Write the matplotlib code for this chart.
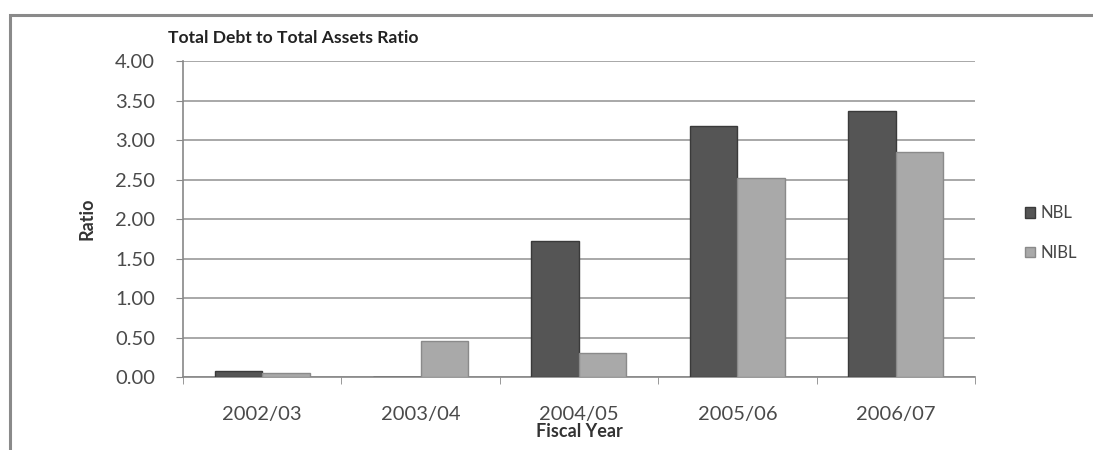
import numpy as np
import matplotlib.pyplot as plt
from matplotlib.patches import Rectangle, Patch

# данные
years = ['2002/03', '2003/04', '2004/05', '2005/06', '2006/07']
nbl = [0.08, 0.0, 1.72, 3.18, 3.37]
nibl = [0.05, 0.46, 0.30, 2.52, 2.85]

plt.rcParams['font.family'] = ['Lato', 'DejaVu Sans']

fig = plt.figure(figsize=(10.93, 4.5), dpi=100)
ax = fig.add_axes([0.1674, 0.1622, 0.7246, 0.7022])

# рамка вокруг диаграммы
fig.patches.append(Rectangle((10/1093, -0.1), 1.2, 1.1 - 15/450, transform=fig.transFigure,
                             fill=False, edgecolor='#8a8a8a', linewidth=2.2, zorder=0))

x = np.arange(len(years))
w = 0.3
ax.bar(x - w/2, nbl, w, color='#555555', edgecolor='#3a3a3a', linewidth=1.0, zorder=3)
ax.bar(x + w/2, nibl, w, color='#a9a9a9', edgecolor='#8a8a8a', linewidth=1.0, zorder=3)

ax.set_xlim(-0.5, len(years) - 0.5)
ax.set_ylim(0, 4)
ax.set_yticks(np.arange(0, 4.01, 0.5))
ax.set_yticklabels([f'{v:.2f}' for v in np.arange(0, 4.01, 0.5)])
ax.yaxis.grid(True, color='#9a9a9a', linewidth=1.2, zorder=0)
ax.set_axisbelow(True)

ax.set_xticks(x)
ax.set_xticklabels(years)
ax.set_xticks(np.arange(-0.5, len(years)), minor=True)
ax.tick_params(axis='x', which='major', length=0, pad=21, labelsize=14.5, labelcolor='#4a4a4a')
ax.tick_params(axis='x', which='minor', length=5, color='#888888', direction='out')
ax.tick_params(axis='y', length=5, color='#888888', labelsize=14.5, labelcolor='#4a4a4a', pad=15)

for s in ['top', 'right']:
    ax.spines[s].set_visible(False)
ax.spines['left'].set_color('#888888')
ax.spines['bottom'].set_color('#888888')
ax.spines['left'].set_linewidth(1.2)
ax.spines['bottom'].set_linewidth(1.2)

ax.set_xlabel('Fiscal Year', fontsize=13, fontweight='bold', color='#333333', labelpad=0)
ax.set_ylabel('Ratio', fontsize=13, fontweight='bold', color='#333333', labelpad=14)

fig.text(168/1093, 1 - 38/450, 'Total Debt to Total Assets Ratio', fontsize=12.6,
         fontweight='bold', color='#222222', va='center', ha='left')

handles = [Patch(facecolor='#555555', edgecolor='#3a3a3a'),
           Patch(facecolor='#a9a9a9', edgecolor='#8a8a8a')]
fig.legend(handles, ['NBL', 'NIBL'], loc='center left', bbox_to_anchor=(1010/1093, 1 - 233/450),
           frameon=False, fontsize=12, labelspacing=1.4, handlelength=0.6, handleheight=0.6,
           handletextpad=0.3, labelcolor='#444444')

fig.savefig('out.png', dpi=100)
